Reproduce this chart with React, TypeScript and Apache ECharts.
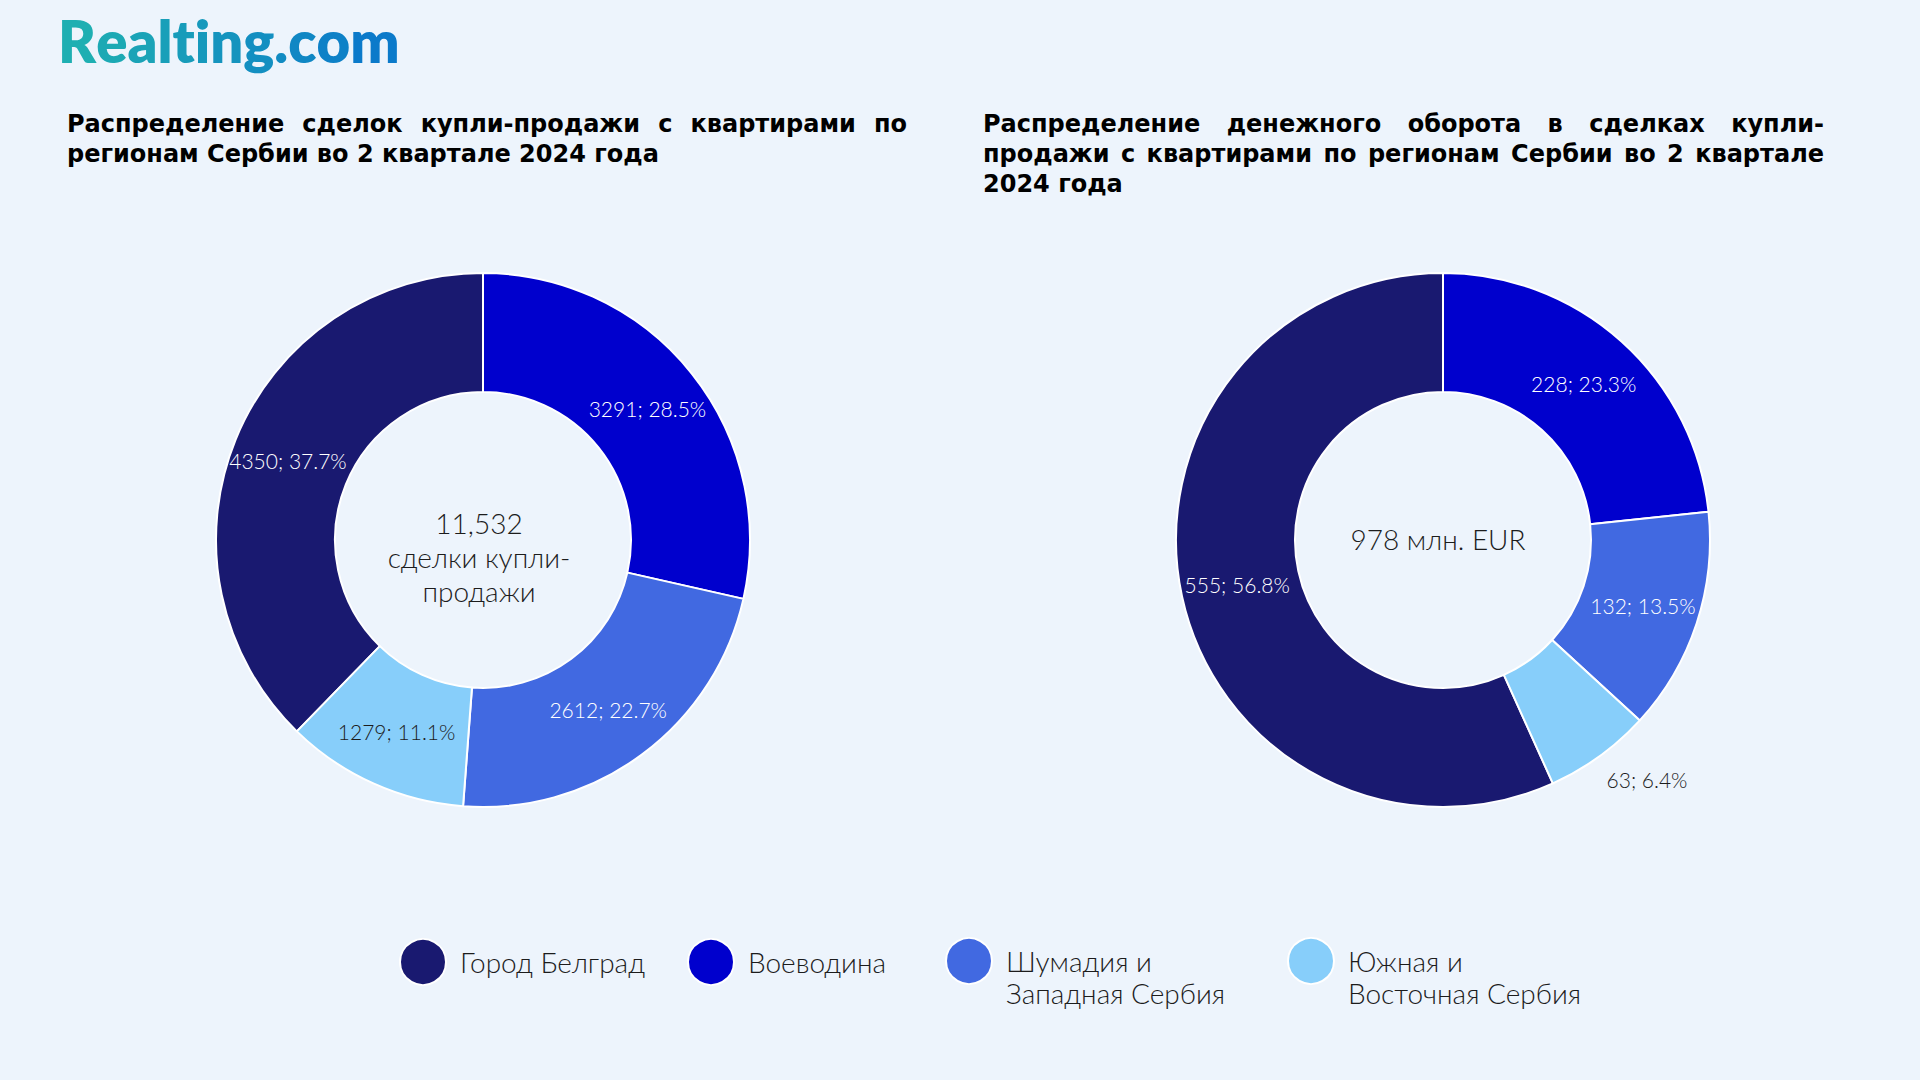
import React, { useEffect, useRef } from "react";
import * as echarts from "echarts";

// ---- data ----
const categories = [
  "Город Белград",
  "Воеводина",
  "Шумадия и\nЗападная Сербия",
  "Южная и\nВосточная Сербия",
];
const dealsValues = [4350, 3291, 2612, 1279];
const dealsShares = [37.7, 28.5, 22.7, 11.1];
const turnoverValues = [555, 228, 132, 63];
const turnoverShares = [56.8, 23.3, 13.5, 6.4];
const dealsTotalText = "11,532";
const dealsCenterSub = "сделки купли-\nпродажи";
const turnoverCenterText = "978 млн. EUR";
const leftTitleLines = [
  "Распределение сделок купли-продажи с квартирами по",
  "регионам Сербии во 2 квартале 2024 года",
];
const rightTitleLines = [
  "Распределение денежного оборота в сделках купли-",
  "продажи с квартирами по регионам Сербии во 2 квартале",
  "2024 года",
];
const logoText = "Realting.com";

// ---- styles ----
const colors = ["#191970", "#0000CD", "#4169E1", "#87CEFA"];
const labelColors = ["#ffffff", "#ffffff", "#ffffff", "#1c1c1c"];
const BG = "#EDF4FC";
const LIGHT_FONT = "Lato";
const TITLE_FONT = "'DejaVu Sans'";
const TITLE_SIZE = 24;
const LOGO_FONT = "800 58px Lato";
const LOGO_FROM = [31, 178, 176];
const LOGO_TO = [10, 118, 204];
const LEGEND_LH = 32;

function measureCtx(font: string) {
  const canvas = document.createElement("canvas");
  const ctx = canvas.getContext("2d") as CanvasRenderingContext2D;
  ctx.font = font;
  return ctx;
}

function justifyLine(
  line: string,
  x: number,
  y: number,
  width: number,
  justify: boolean,
  ctx: CanvasRenderingContext2D
) {
  const words = line.split(" ");
  const widths = words.map((w) => ctx.measureText(w).width);
  const total = widths.reduce((a, b) => a + b, 0);
  const space = ctx.measureText(" ").width;
  const gap = justify && words.length > 1 ? Math.max(space * 0.6, (width - total) / (words.length - 1)) : space;
  const out: any[] = [];
  let cx = x;
  words.forEach((w, i) => {
    out.push({
      type: "text",
      x: cx,
      y,
      silent: true,
      style: {
        text: w,
        fill: "#000",
        font: `700 ${TITLE_SIZE}px ${TITLE_FONT}`,
        textAlign: "left",
        textVerticalAlign: "middle",
      },
    });
    cx += widths[i] + gap;
  });
  return out;
}

function titleElements(lines: string[], x: number, y0: number, lh: number, width: number) {
  const ctx = measureCtx(`700 ${TITLE_SIZE}px ${TITLE_FONT}`);
  let els: any[] = [];
  lines.forEach((l, i) => {
    els = els.concat(justifyLine(l, x, y0 + i * lh, width, i < lines.length - 1, ctx));
  });
  return els;
}

function logoElements(x: number, y: number) {
  const ctx = measureCtx(LOGO_FONT);
  const chars = logoText.split("");
  const total = ctx.measureText(logoText).width;
  let cx = x;
  return chars.map((ch) => {
    const w = ctx.measureText(ch).width;
    const t = Math.min(1, Math.max(0, (cx + w / 2 - x) / total));
    const c = LOGO_FROM.map((v, k) => Math.round(v + (LOGO_TO[k] - v) * t));
    const el = {
      type: "text",
      x: cx,
      y,
      silent: true,
      style: {
        text: ch,
        font: LOGO_FONT,
        textAlign: "left",
        textVerticalAlign: "middle",
        fill: `rgb(${c[0]},${c[1]},${c[2]})`,
      },
    };
    cx += w;
    return el;
  });
}

function pieSeries(values: number[], shares: number[], center: number[], outsideIdx: number[]) {
  const sum = values.reduce((a, b) => a + b, 0);
  return {
    type: "pie",
    center,
    radius: [148, 267],
    startAngle: 90 + (values[0] / sum) * 360,
    clockwise: true,
    silent: true,
    avoidLabelOverlap: false,
    itemStyle: { borderColor: "#ffffff", borderWidth: 2 },
    label: {
      show: true,
      position: "inside",
      fontFamily: LIGHT_FONT,
      fontWeight: 300,
      fontSize: 21,
      formatter: (p: any) => `${p.value}; ${shares[p.dataIndex].toFixed(1)}%`,
    },
    labelLine: { show: false },
    emphasis: { disabled: true },
    data: categories.map((c, i) => {
      const outside = outsideIdx.indexOf(i) >= 0;
      return {
        name: c,
        value: values[i],
        itemStyle: { color: colors[i] },
        label: outside
          ? { position: "outside", color: "#1c1c1c", distanceToLabelLine: -10 }
          : { color: labelColors[i] },
        labelLine: outside ? { show: false, length: 29, length2: 0 } : { show: false },
      };
    }),
  };
}

export default function App() {
  const ref = useRef<HTMLDivElement>(null);
  useEffect(() => {
    if (!ref.current) return;
    const chart = echarts.init(ref.current, null, { renderer: "svg" });

    const legendCenters = [423, 711, 969, 1311];
    const legends = categories.map((c, i) => {
      const multi = c.indexOf("\n") >= 0;
      return {
        show: true,
        orient: "horizontal",
        left: legendCenters[i] - 24,
        top: multi ? 961 - LEGEND_LH * 1.5 : 961 - 23,
        padding: 0,
        itemWidth: 64,
        itemHeight: 46,
        icon: "circle",
        selectedMode: false,
        // leading blank line keeps the first text line level with the icon
        formatter: (name: string) => (name.indexOf("\n") >= 0 ? "\n" + name : name),
        textStyle: {
          fontFamily: LIGHT_FONT,
          fontWeight: 300,
          fontSize: 28,
          lineHeight: LEGEND_LH,
          color: "#1c1c1c",
        },
        data: [c],
      };
    });

    const graphics: any[] = [
      ...logoElements(58, 40),
      ...titleElements(leftTitleLines, 67, 124, 30, 840),
      ...titleElements(rightTitleLines, 983, 124, 30, 841),
      {
        type: "text",
        x: 479,
        y: 557,
        silent: true,
        style: {
          text: dealsTotalText + "\n" + dealsCenterSub,
          font: `300 28px ${LIGHT_FONT}`,
          lineHeight: 34,
          fill: "#1c1c1c",
          textAlign: "center",
          textVerticalAlign: "middle",
        },
      },
      {
        type: "text",
        x: 1438,
        y: 539,
        silent: true,
        style: {
          text: turnoverCenterText,
          font: `300 28px ${LIGHT_FONT}`,
          fill: "#1c1c1c",
          textAlign: "center",
          textVerticalAlign: "middle",
        },
      },
    ];

    chart.setOption({
      animation: false,
      backgroundColor: BG,
      legend: legends,
      graphic: graphics,
      series: [
        pieSeries(dealsValues, dealsShares, [483, 540], []),
        pieSeries(turnoverValues, turnoverShares, [1443, 540], [3]),
      ],
    });
    return () => chart.dispose();
  }, []);
  return (
    <div style={{ position: "fixed", left: 0, top: 0, width: 1920, height: 1080, background: BG }}>
      <div ref={ref} style={{ width: 1920, height: 1080 }} />
    </div>
  );
}
